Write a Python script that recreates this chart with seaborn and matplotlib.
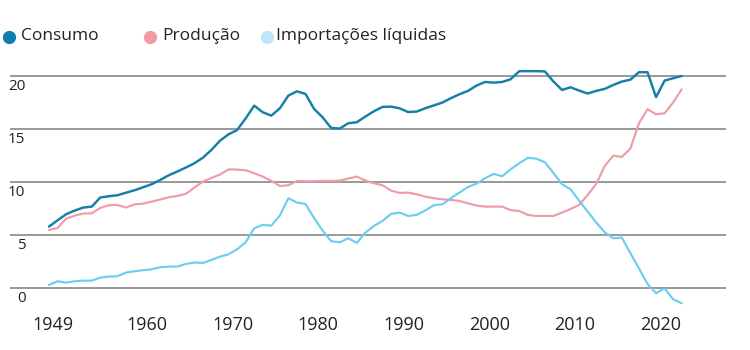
import matplotlib
matplotlib.use("Agg")
import matplotlib.pyplot as plt
from matplotlib.lines import Line2D
import matplotlib.transforms as mtransforms
import seaborn as sns
import pandas as pd

years = list(range(1949, 2024))

consumo = [5.81, 6.40, 6.97, 7.32, 7.60, 7.69, 8.55, 8.67, 8.76, 9.00,
           9.23, 9.51, 9.80, 10.20, 10.64, 10.99, 11.37, 11.77, 12.30, 13.03,
           13.90, 14.50, 14.90, 16.00, 17.20, 16.58, 16.26, 16.95, 18.15, 18.55,
           18.30, 16.90, 16.10, 15.10, 15.04, 15.54, 15.64, 16.17, 16.67, 17.08,
           17.11, 16.95, 16.60, 16.64, 16.95, 17.22, 17.49, 17.90, 18.27, 18.59,
           19.09, 19.43, 19.37, 19.43, 19.69, 20.45, 20.45, 20.45, 20.42, 19.47,
           18.68, 18.93, 18.62, 18.34, 18.59, 18.78, 19.15, 19.47, 19.65, 20.35,
           20.35, 18.00, 19.56, 19.78, 20.00]

producao = [5.49, 5.68, 6.56, 6.84, 7.03, 7.06, 7.57, 7.82, 7.85, 7.60,
            7.91, 7.97, 8.16, 8.35, 8.57, 8.70, 8.89, 9.48, 10.05, 10.39,
            10.71, 11.20, 11.18, 11.11, 10.83, 10.52, 10.11, 9.64, 9.70, 10.11,
            10.08, 10.08, 10.11, 10.11, 10.14, 10.33, 10.52, 10.14, 9.89, 9.70,
            9.20, 8.98, 9.01, 8.85, 8.63, 8.48, 8.38, 8.32, 8.23, 8.00,
            7.79, 7.69, 7.69, 7.69, 7.35, 7.28, 6.91, 6.81, 6.81, 6.81,
            7.13, 7.47, 7.85, 8.79, 9.83, 11.52, 12.50, 12.37, 13.16, 15.54,
            16.86, 16.39, 16.48, 17.50, 18.74]

importacoes = [0.31, 0.66, 0.53, 0.66, 0.72, 0.72, 1.00, 1.10, 1.13, 1.48,
               1.60, 1.70, 1.79, 1.98, 2.04, 2.04, 2.29, 2.42, 2.39, 2.67,
               2.98, 3.20, 3.67, 4.33, 5.65, 5.97, 5.90, 6.84, 8.48, 8.07,
               7.94, 6.62, 5.43, 4.43, 4.33, 4.71, 4.27, 5.24, 5.87, 6.34,
               7.00, 7.13, 6.81, 6.91, 7.32, 7.82, 7.91, 8.48, 9.01, 9.54,
               9.86, 10.36, 10.77, 10.55, 11.21, 11.77, 12.28, 12.21, 11.87, 10.86,
               9.80, 9.32, 8.26, 7.22, 6.19, 5.27, 4.71, 4.77, 3.30, 1.88,
               0.41, -0.47, 0.00, -1.04, -1.41]

series_names = ["Consumo", "Produção", "Importações líquidas"]
x_tick_years = [1949, 1960, 1970, 1980, 1990, 2000, 2010, 2020]
y_ticks = [0, 5, 10, 15, 20]

line_colors = ["#157fa8", "#f09ca6", "#6ccdef"]
legend_colors = ["#0f7db0", "#f09aa5", "#c0e5f9"]
line_widths = [1.75, 1.55, 1.55]

df = pd.DataFrame({"Ano": years * 3,
                   "Valor": consumo + producao + importacoes,
                   "Serie": [s for s in series_names for _ in years]})

sns.set_theme(style="white")
plt.rcParams["font.family"] = ["Open Sans", "DejaVu Sans"]
text_color = "#222222"

fig = plt.figure(figsize=(7.5, 3.5), dpi=100)
ax = fig.add_axes([10 / 750, (350 - 309.5) / 350, 716 / 750, 249.5 / 350])

for name, col, lw in zip(series_names, line_colors, line_widths):
    sns.lineplot(data=df[df["Serie"] == name], x="Ano", y="Valor", color=col,
                 linewidth=lw, ax=ax, legend=False, zorder=3)

ax.set_xlim(1944.44, 2028.18)
ax.set_ylim(-2.0, 21.5)
for sp in ax.spines.values():
    sp.set_visible(False)
ax.set_xlabel("")
ax.set_ylabel("")

ax.set_yticks(y_ticks)
ax.set_yticklabels([])
ax.tick_params(axis="y", length=0)
ax.grid(axis="y", color="#7d7d7d", linewidth=1.1, zorder=1)
ax.grid(axis="x", visible=False)

# y labels placed under each gridline, right-aligned
trans = mtransforms.blended_transform_factory(fig.transFigure, ax.transData)
off = mtransforms.ScaledTranslation(0, -10.5 / 100, fig.dpi_scale_trans)
for v in y_ticks:
    ax.text(25.5 / 750, v, str(v), transform=trans + off, ha="right", va="center",
            fontsize=11, color=text_color)

ax.set_xticks([y + 0.5 for y in x_tick_years])
ax.set_xticklabels([str(y) for y in x_tick_years], fontsize=13, color=text_color)
ax.tick_params(axis="x", length=0, pad=5)

# legend at top
leg_y = 1 - 36.5 / 350
circle_x = [9.3, 150, 267]
text_x = [20.5, 162.5, 276.5]
for name, col, cx, tx in zip(series_names, legend_colors, circle_x, text_x):
    fig.add_artist(Line2D([cx / 750], [leg_y], marker="o", markersize=8.5,
                          color=col, linestyle="none", transform=fig.transFigure))
    fig.text(tx / 750, leg_y, name, ha="left", va="center", fontsize=12.5,
             color=text_color)

fig.savefig("out.png", dpi=100, facecolor="white")
